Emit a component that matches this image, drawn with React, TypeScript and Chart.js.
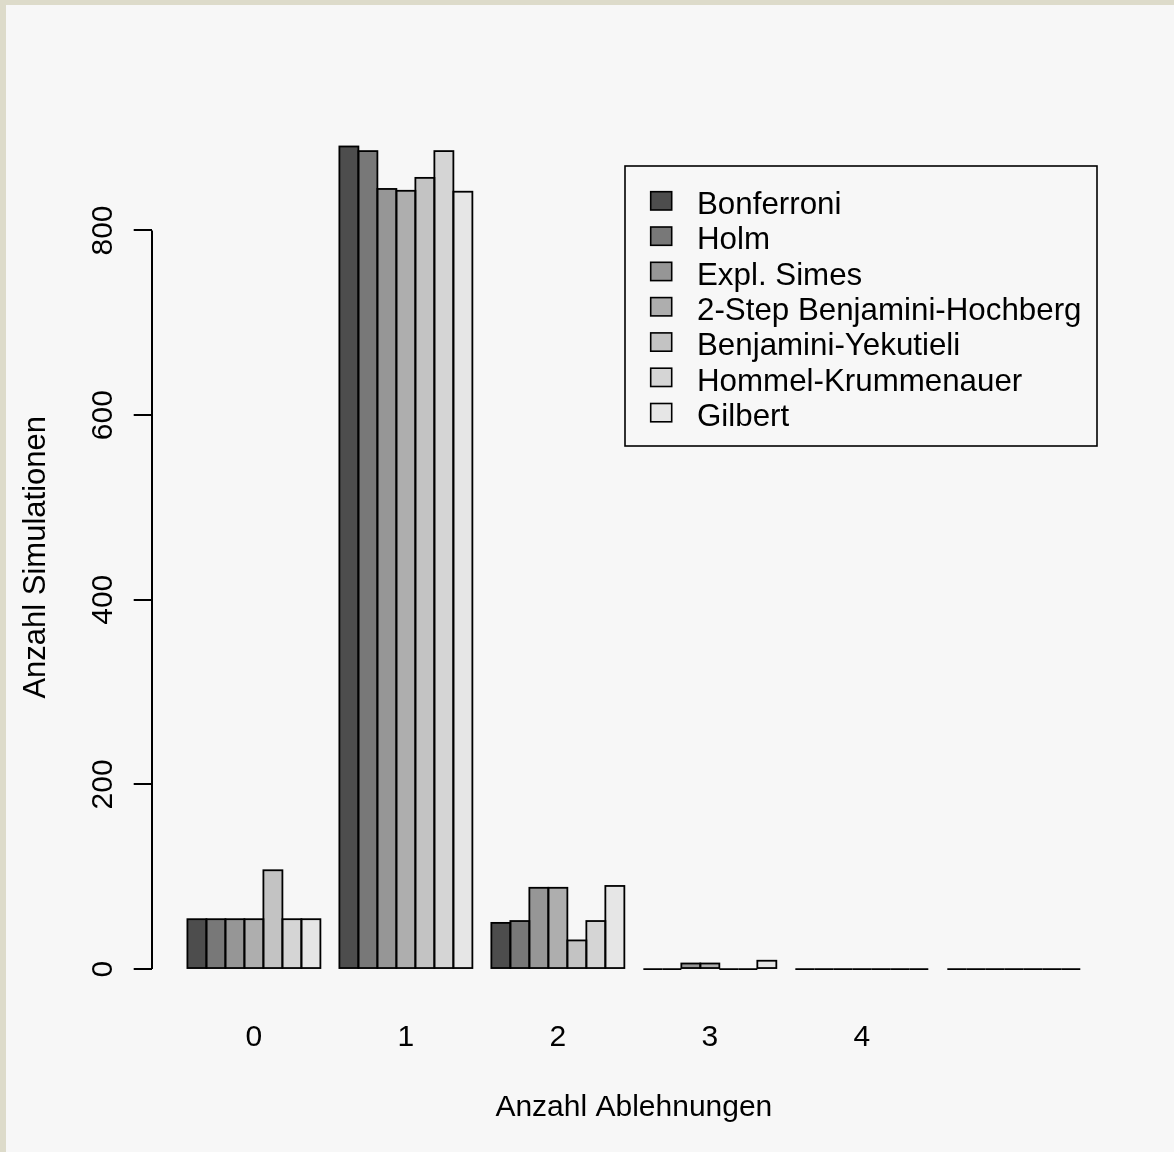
import React, { useEffect, useRef } from 'react';
import { Chart, registerables } from 'chart.js';

Chart.register(...registerables);

// ---- data ----
const groupLabels = ['0', '1', '2', '3', '4', ''];
const groupPositions = [0, 1, 2, 3, 4, 5];
const methodNames = [
  'Bonferroni',
  'Holm',
  'Expl. Simes',
  '2-Step Benjamini-Hochberg',
  'Benjamini-Yekutieli',
  'Hommel-Krummenauer',
  'Gilbert',
];
const methodColors = ['#4D4D4D', '#787878', '#969696', '#AEAEAE', '#C3C3C3', '#D5D5D5', '#E6E6E6'];
const bonferroni = [54, 891, 50, 0, 0, 0];
const holm = [54, 886, 52, 0, 0, 0];
const explSimes = [54, 845, 88, 6, 0, 0];
const twoStepBH = [54, 843, 88, 6, 0, 0];
const benjaminiYekutieli = [107, 857, 31, 0, 0, 0];
const hommelKrummenauer = [54, 886, 52, 0, 0, 0];
const gilbert = [54, 842, 90, 9, 0, 0];
const yTicks = [0, 200, 400, 600, 800];
const xTitle = 'Anzahl Ablehnungen';
const yTitle = 'Anzahl Simulationen';

const seriesValues = [bonferroni, holm, explSimes, twoStepBH, benjaminiYekutieli, hommelKrummenauer, gilbert];

const FONT = "'Liberation Sans', Arial, Helvetica, sans-serif";

const rPlotPlugin = {
  id: 'rPlot',
  afterDatasetsDraw(chart: any) {
    const ctx = chart.ctx;
    ctx.save();
    ctx.strokeStyle = '#000';
    ctx.lineWidth = 1.8;
    chart.getSortedVisibleDatasetMetas().forEach((meta: any) => {
      meta.data.forEach((el: any) => {
        const p = el.getProps(['x', 'y', 'base', 'width'], true);
        ctx.strokeRect(p.x - p.width / 2, Math.min(p.y, p.base), p.width, Math.abs(p.base - p.y));
      });
    });
    ctx.restore();
  },
  afterDraw(chart: any) {
    const ctx = chart.ctx;
    const area = chart.chartArea;
    const yScale = chart.scales.y;
    ctx.save();
    // y axis line from first to last tick
    const x0 = Math.round(area.left);
    ctx.strokeStyle = '#000';
    ctx.lineWidth = 2;
    ctx.beginPath();
    ctx.moveTo(x0, yScale.getPixelForValue(yTicks[0]));
    ctx.lineTo(x0, yScale.getPixelForValue(yTicks[yTicks.length - 1]));
    ctx.stroke();
    // y tick labels (rotated, parallel to axis)
    ctx.fillStyle = '#000';
    ctx.font = `30px ${FONT}`;
    ctx.textAlign = 'center';
    ctx.textBaseline = 'middle';
    yTicks.forEach((v) => {
      ctx.save();
      ctx.translate(area.left - 48, yScale.getPixelForValue(v));
      ctx.rotate(-Math.PI / 2);
      ctx.fillText(String(v), 0, 0);
      ctx.restore();
    });
    // legend
    const bx = area.right - 491;
    const by = area.top + 53.4;
    const bw = 472;
    const bh = 280;
    ctx.lineWidth = 1.6;
    ctx.strokeRect(bx, by, bw, bh);
    ctx.textAlign = 'left';
    ctx.font = `31.3px ${FONT}`;
    chart.data.datasets.forEach((ds: any, i: number) => {
      const sy = by + 25.7 + i * 35.3;
      ctx.fillStyle = ds.backgroundColor;
      ctx.fillRect(bx + 25.7, sy, 21, 18.3);
      ctx.strokeRect(bx + 25.7, sy, 21, 18.3);
      ctx.fillStyle = '#000';
      ctx.fillText(ds.label, bx + 72, by + 39.5 + i * 35.3);
    });
    ctx.restore();
  },
};

export default function App() {
  const ref = useRef<HTMLCanvasElement | null>(null);

  useEffect(() => {
    document.body.style.margin = '0';
    if (!ref.current) return;
    Chart.defaults.font.family = FONT;
    const chart = new Chart(ref.current, {
      type: 'bar',
      data: {
        datasets: seriesValues.map((vals, i) => ({
          label: methodNames[i],
          data: vals.map((v, j) => ({ x: groupPositions[j], y: v })),
          backgroundColor: methodColors[i],
          borderWidth: 0,
          categoryPercentage: 7 / 8,
          barPercentage: 1,
        })),
      },
      options: {
        animation: false,
        responsive: false,
        devicePixelRatio: 1,
        layout: { padding: { left: 0, top: 107.6, right: 58, bottom: 0 } },
        plugins: {
          legend: { display: false },
          tooltip: { enabled: false },
        },
        scales: {
          x: {
            type: 'linear',
            offset: false,
            min: -0.6725,
            max: 5.6725,
            afterBuildTicks: (scale: any) => {
              scale.ticks = groupPositions.map((v) => ({ value: v }));
            },
            afterFit: (scale: any) => {
              scale.height = 150;
            },
            ticks: {
              callback: (v: any) => {
                const k = groupPositions.indexOf(Number(v));
                return k >= 0 ? groupLabels[k] : '';
              },
              font: { size: 30, family: FONT },
              color: '#000',
              padding: 18,
              autoSkip: false,
              maxRotation: 0,
              minRotation: 0,
            },
            grid: { display: false, drawTicks: false, tickLength: 0, offset: false },
            border: { display: false },
            title: {
              display: true,
              text: xTitle,
              color: '#000',
              font: { size: 30, family: FONT },
              padding: { top: 0, bottom: 26 },
            },
          },
          y: {
            type: 'linear',
            min: -35.7,
            max: 927.7,
            afterBuildTicks: (scale: any) => {
              scale.ticks = yTicks.map((v) => ({ value: v }));
            },
            afterFit: (scale: any) => {
              scale.width = 145.7;
            },
            ticks: { display: false },
            grid: {
              display: true,
              drawOnChartArea: false,
              drawTicks: true,
              tickLength: 18,
              color: '#000',
              lineWidth: 2,
            },
            border: { display: false },
            title: {
              display: true,
              text: yTitle,
              color: '#000',
              font: { size: 31, family: FONT },
              padding: { top: 12, bottom: 0 },
            },
          },
        },
      } as any,
      plugins: [rPlotPlugin],
    });
    return () => chart.destroy();
  }, []);

  return (
    <div style={{ position: 'relative', width: 1174, height: 1152, background: '#dddbca', overflow: 'hidden' }}>
      <div style={{ position: 'absolute', left: 6, top: 5, width: 1168, height: 1147, background: '#f7f7f7' }}>
        <canvas ref={ref} width={1168} height={1147} style={{ display: 'block' }} />
      </div>
    </div>
  );
}
